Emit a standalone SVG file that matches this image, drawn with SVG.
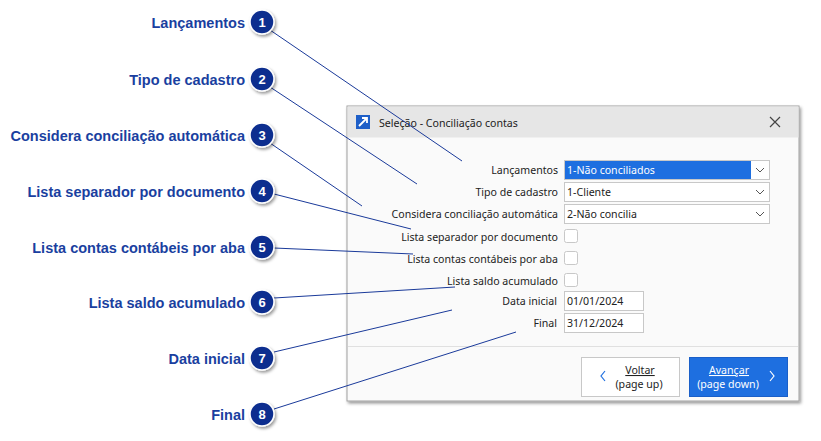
<svg xmlns="http://www.w3.org/2000/svg" width="821" height="441" viewBox="0 0 821 441">
<style>
.lbl{font-family:"Liberation Sans",Arial,sans-serif;font-weight:bold;font-size:14.5px;fill:#1a3fa0;text-anchor:end}
.num{font-family:"Liberation Sans",Arial,sans-serif;font-weight:bold;font-size:13px;fill:#fff;text-anchor:middle}
.badge{fill:#0f2f8f;stroke:#fff;stroke-width:1.5}
.f{font-family:"Segoe UI","Noto Sans","DejaVu Sans",sans-serif;font-size:10.6px;fill:#222}
.fr{text-anchor:end}
.box{fill:#fff;stroke:#c8c8c8}
.con line{stroke:#1a3a9a;stroke-width:1}
</style>
<defs><filter id="sh" x="-30%" y="-30%" width="170%" height="170%"><feDropShadow dx="1.5" dy="2" stdDeviation="1.5" flood-opacity="0.4"/></filter></defs>
<rect width="821" height="441" fill="#fff"/>
<g id="dialog">
<rect x="347" y="106" width="452" height="295" fill="#fafafa" stroke="#a0a0a0" filter="url(#sh)"/>
<rect x="347.5" y="106.5" width="451" height="31" fill="#e6e6e6"/>
<rect x="356" y="115" width="14" height="14" fill="#1e5fc8"/>
<path d="M359 126 L367 118 M362 118 H367 V123" stroke="#fff" stroke-width="1.8" fill="none"/>
<text x="379" y="127" class="f" fill="#333">Seleção - Conciliação contas</text>
<path d="M770 117 L780 127 M780 117 L770 127" stroke="#444" stroke-width="1.2"/>
<text x="558" y="174" class="f fr">Lançamentos</text>
<rect x="564.5" y="160.5" width="205" height="19" class="box"/>
<rect x="565" y="161" width="186" height="18" fill="#1e6fe0"/>
<text x="567" y="174" class="f" style="fill:#fff">1-Não conciliados</text>
<text x="558" y="196" class="f fr">Tipo de cadastro</text>
<rect x="564.5" y="182.5" width="205" height="19" class="box"/>
<text x="567" y="196" class="f">1-Cliente</text>
<text x="558" y="218" class="f fr">Considera conciliação automática</text>
<rect x="564.5" y="204.5" width="205" height="19" class="box"/>
<text x="567" y="218" class="f">2-Não concilia</text>
<path d="M756 168 l4 4 l4 -4 M756 190 l4 4 l4 -4 M756 212 l4 4 l4 -4" stroke="#555" fill="none"/>
<text x="558" y="241" class="f fr">Lista separador por documento</text>
<rect x="564.5" y="229.5" width="13" height="13" rx="2" class="box" stroke="#999"/>
<text x="558" y="263" class="f fr">Lista contas contábeis por aba</text>
<rect x="564.5" y="251.5" width="13" height="13" rx="2" class="box"/>
<text x="558" y="285" class="f fr">Lista saldo acumulado</text>
<rect x="564.5" y="273.5" width="13" height="13" rx="2" class="box"/>
<text x="557" y="305" class="f fr">Data inicial</text>
<rect x="564.5" y="291.5" width="79" height="19" class="box"/>
<text x="567" y="305" class="f">01/01/2024</text>
<text x="557" y="327" class="f fr">Final</text>
<rect x="564.5" y="313.5" width="79" height="19" class="box"/>
<text x="567" y="327" class="f">31/12/2024</text>
<line x1="348" y1="346.5" x2="798" y2="346.5" stroke="#e0e0e0"/>
<rect x="581.5" y="357.5" width="98" height="39" fill="#fff" stroke="#c8c8c8"/>
<path d="M605 371 l-4 5 l4 5" stroke="#1e6fe0" fill="none" stroke-width="1.2"/>
<text x="640" y="374" class="f" text-anchor="middle" text-decoration="underline">Voltar</text>
<text x="639" y="388" class="f" text-anchor="middle">(page up)</text>
<rect x="689.5" y="357.5" width="98" height="39" fill="#1e6fe0" stroke="#1a5fc8"/>
<path d="M770 371 l4 5 l-4 5" stroke="#fff" fill="none" stroke-width="1.2"/>
<text x="729" y="374" class="f" text-anchor="middle" style="fill:#fff" text-decoration="underline">Avançar</text>
<text x="728" y="388" class="f" text-anchor="middle" style="fill:#fff">(page down)</text>
</g>
<g class="con" id="connectors">
<line x1="270" y1="30" x2="462" y2="161"/>
<line x1="270" y1="87" x2="417" y2="184"/>
<line x1="270" y1="143" x2="362" y2="206"/>
<line x1="274" y1="194" x2="411" y2="229"/>
<line x1="274" y1="248" x2="413" y2="254"/>
<line x1="274" y1="298" x2="455" y2="287"/>
<line x1="274" y1="352" x2="452" y2="310"/>
<line x1="274" y1="409" x2="516" y2="332"/>
</g>
<g id="n1"><text x="245" y="28" class="lbl">Lançamentos</text><circle cx="262" cy="22" r="12" class="badge" filter="url(#sh)"/><text x="262" y="27" class="num">1</text></g>
<g id="n2"><text x="245" y="85" class="lbl">Tipo de cadastro</text><circle cx="262" cy="79" r="12" class="badge" filter="url(#sh)"/><text x="262" y="84" class="num">2</text></g>
<g id="n3"><text x="245" y="141" class="lbl">Considera conciliação automática</text><circle cx="262" cy="135" r="12" class="badge" filter="url(#sh)"/><text x="262" y="140" class="num">3</text></g>
<g id="n4"><text x="245" y="197" class="lbl">Lista separador por documento</text><circle cx="262" cy="191" r="12" class="badge" filter="url(#sh)"/><text x="262" y="196" class="num">4</text></g>
<g id="n5"><text x="245" y="253" class="lbl">Lista contas contábeis por aba</text><circle cx="262" cy="247" r="12" class="badge" filter="url(#sh)"/><text x="262" y="252" class="num">5</text></g>
<g id="n6"><text x="245" y="308" class="lbl">Lista saldo acumulado</text><circle cx="262" cy="302" r="12" class="badge" filter="url(#sh)"/><text x="262" y="307" class="num">6</text></g>
<g id="n7"><text x="245" y="364" class="lbl">Data inicial</text><circle cx="262" cy="358" r="12" class="badge" filter="url(#sh)"/><text x="262" y="363" class="num">7</text></g>
<g id="n8"><text x="245" y="420" class="lbl">Final</text><circle cx="262" cy="414" r="12" class="badge" filter="url(#sh)"/><text x="262" y="419" class="num">8</text></g>
</svg>
